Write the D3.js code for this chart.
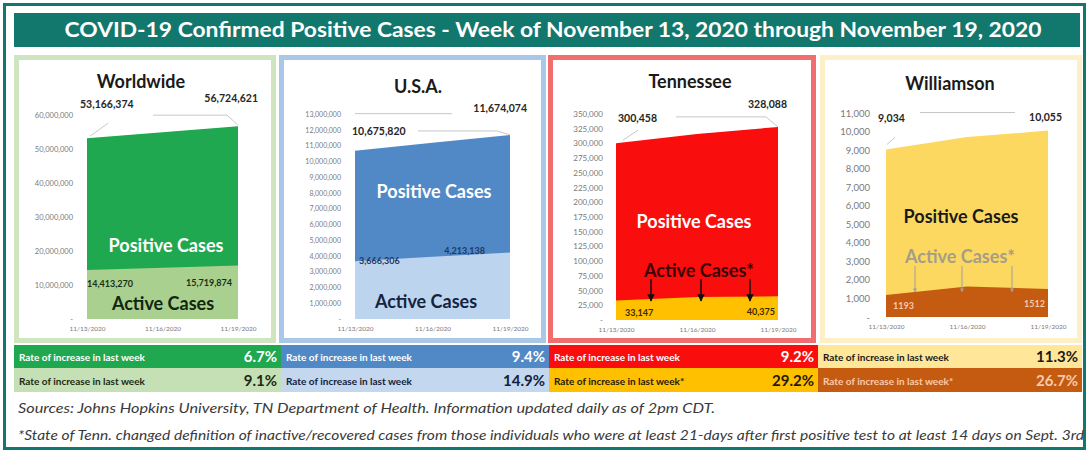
<!DOCTYPE html>
<html><head><meta charset="utf-8">
<script src="https://cdn.jsdelivr.net/npm/d3@7"></script>
<style>body{margin:0;background:#fff}svg{display:block}text{font-family:Lato,"Open Sans",sans-serif}</style>
</head><body><svg id="c" width="1088" height="452"></svg>
<script>
// ---------- DATA ----------
const dates = ["11/13/2020", "11/16/2020", "11/19/2020"];
const worldwidePositive = [53166374, 54950000, 56724621];
const worldwideActive = [14413270, 15060000, 15719874];
const usaPositive = [10675820, 11170000, 11674074];
const usaActive = [3666306, 3940000, 4213138];
const tennesseePositive = [300458, 316000, 328088];
const tennesseeActive = [33147, 39000, 40375];
const williamsonPositive = [9034, 9700, 10055];
const williamsonActive = [1193, 1650, 1512];
const worldwideTicks = [0, 10000000, 20000000, 30000000, 40000000, 50000000, 60000000];
const usaTicks = [0, 1000000, 2000000, 3000000, 4000000, 5000000, 6000000, 7000000, 8000000, 9000000, 10000000, 11000000, 12000000, 13000000];
const tennesseeTicks = [0, 25000, 50000, 75000, 100000, 125000, 150000, 175000, 200000, 225000, 250000, 275000, 300000, 325000, 350000];
const williamsonTicks = [0, 1000, 2000, 3000, 4000, 5000, 6000, 7000, 8000, 9000, 10000, 11000];
const panelTitles = ["Worldwide", "U.S.A.", "Tennessee", "Williamson"];
const positiveRates = ["6.7%", "9.4%", "9.2%", "11.3%"];
const activeRates = ["9.1%", "14.9%", "29.2%", "26.7%"];
const positiveRateLabels = ["Rate of increase in last week", "Rate of increase in last week", "Rate of increase in last week", "Rate of increase in last week"];
const activeRateLabels = ["Rate of increase in last week", "Rate of increase in last week", "Rate of increase in last week*", "Rate of increase in last week*"];
const activeTitles = ["Active Cases", "Active Cases", "Active Cases*", "Active Cases*"];
const titleText = "COVID-19 Confirmed Positive Cases - Week of November 13, 2020 through November 19, 2020";
const sourcesText = "Sources: Johns Hopkins University, TN Department of Health. Information updated daily as of 2pm CDT.";
const footnoteText = "*State of Tenn. changed definition of inactive/recovered cases from those individuals who were at least 21-days after first positive test to at least 14 days on Sept. 3rd";

const series = [
  {pos: worldwidePositive, act: worldwideActive, ticks: worldwideTicks},
  {pos: usaPositive, act: usaActive, ticks: usaTicks},
  {pos: tennesseePositive, act: tennesseeActive, ticks: tennesseeTicks},
  {pos: williamsonPositive, act: williamsonActive, ticks: williamsonTicks}
];

// ---------- LAYOUT / STYLE ----------
const teal = "#12776d";
const layout = [
  {x0:14, x1:276, plot:[87,238], y0:319, yTop:115, tickRight:73, tickSize:7.5, border:"#cfe5c0",
   posC:"#1fa84f", actC:"#a9d08e", titleX:141, titleY:88,
   posLab:{x:166,y:252,fill:"#ffffff"}, actLab:{x:163,y:310,fill:"#10260f"},
   topL:{dx:-7,dy:-30}, topR:{dx:20,dy:-24}, actL:{dx:0,y:287}, actR:{dx:-6,y:286}, actLabFill:"#1b2e14", actLabSize:9,
   leadL:[[21,-15],[3,-2]], leadR:[[-85,-11],[-11,-11],[0,-1]],
   row:[14,281], r1:"#1fa84f", r1t:"#ffffff", r2:"#c5e0b4", r2t:"#1b2a14"},
  {x0:279, x1:546, plot:[355,510], y0:319, yTop:114, tickRight:341, tickSize:7, border:"#a9c7e7",
   posC:"#5089c6", actC:"#bdd4ee", titleX:418, titleY:93,
   posLab:{x:434,y:198,fill:"#ffffff"}, actLab:{x:426,y:308,fill:"#142440"},
   topL:{dx:-3,dy:-16}, topR:{dx:17,dy:-23}, actL:{dx:4,y:264}, actR:{dx:-25,y:254}, actLabFill:"#1f3864", actLabSize:9,
   leadL:[[0,-37],[97,-37]], leadR:[[-92,-4],[-13,-4],[0,0]],
   row:[281,549], r1:"#5089c6", r1t:"#ffffff", r2:"#c3d8ef", r2t:"#14213a"},
  {x0:548, x1:816, plot:[616,778], y0:320, yTop:114, tickRight:603, tickSize:8, border:"#f26d6d",
   posC:"#f90d0d", actC:"#ffc000", titleX:690, titleY:88,
   posLab:{x:694,y:228,fill:"#ffffff"}, actLab:{x:699,y:277,fill:"#3a0606"},
   topL:{dx:2,dy:-21}, topR:{dx:9,dy:-19}, actL:{dx:9,y:316}, actR:{dx:-3,y:315}, actLabFill:"#3a2a00", actLabSize:9,
   leadL:[[22,-13],[7,-3]], leadR:[[-102,-10],[-12,-10],[0,0]],
   arrows:{dx:[35,4,-28], y1:279, y2:301, color:"#111111"},
   row:[549,818], r1:"#f90d0d", r1t:"#ffffff", r2:"#ffc000", r2t:"#1e1a08"},
  {x0:820, x1:1082, plot:[886,1048], y0:317, yTop:113, tickRight:870, tickSize:9.5, border:"#fdf0c8",
   posC:"#fcd861", actC:"#c55a11", titleX:950, titleY:90,
   posLab:{x:961,y:223,fill:"#1a1a1a"}, actLab:{x:960,y:263,fill:"#a49e88"},
   topL:{dx:-8,dy:-27}, topR:{dx:14,dy:-10}, actL:{dx:7,y:309}, actR:{dx:-3,y:307}, actLabFill:"#f6c9a8", actLabSize:9,
   leadL:[[9,-12],[1,-5]], leadR:[[-128,-18],[-33,-18]],
   arrows:{dx:[29,-5,-36], y1:266, y2:292, color:"#9e9e9e"},
   row:[818,1082], r1:"#ffe699", r1t:"#1a1a1a", r2:"#c55a11", r2t:"#f8cbad"}
];

const svg = d3.select("#c");
svg.append("rect").attr("width",1088).attr("height",452).attr("fill","#ffffff");
const defs = svg.append("defs");
["#111111","#9e9e9e"].forEach((c,i)=>{
  defs.append("marker").attr("id","arr"+i).attr("viewBox","0 0 10 10").attr("refX",9).attr("refY",5)
    .attr("markerWidth", i===0?5:4).attr("markerHeight", i===0?5:4).attr("orient","auto")
    .append("path").attr("d","M0,0L10,5L0,10z").attr("fill",c);
});

// frame & header
svg.append("rect").attr("x",4.5).attr("y",4.5).attr("width",1080).attr("height",444)
  .attr("fill","none").attr("stroke",teal).attr("stroke-width",3);
svg.append("rect").attr("x",14).attr("y",13).attr("width",1066).attr("height",34).attr("fill",teal);
svg.append("text").attr("x",553).attr("y",37).attr("text-anchor","middle").attr("fill","#fff")
  .attr("font-size",20).attr("font-weight",700).attr("textLength",977).attr("lengthAdjust","spacingAndGlyphs")
  .text(titleText);

const fmt = d3.format(",");

layout.forEach((L, i) => {
  const s = series[i];
  const g = svg.append("g");
  g.append("rect").attr("x",L.x0+2.5).attr("y",57.5).attr("width",L.x1-L.x0-5).attr("height",283)
    .attr("fill","#fff").attr("stroke",L.border).attr("stroke-width",5);
  g.append("text").attr("x",L.titleX).attr("y",L.titleY).attr("text-anchor","middle")
    .attr("font-size",18).attr("font-weight",700).attr("fill","#1a1a1a").text(panelTitles[i]);

  const x = d3.scalePoint().domain(dates).range(L.plot);
  const y = d3.scaleLinear().domain([0, d3.max(s.ticks)]).range([L.y0, L.yTop]);

  const ya = d3.axisLeft(y).tickValues(s.ticks).tickSize(0).tickPadding(0)
    .tickFormat(d => d === 0 ? "-" : fmt(d));
  g.append("g").attr("transform",`translate(${L.tickRight},0)`).call(ya)
    .call(a => a.select(".domain").remove())
    .selectAll("text").attr("fill","#7a7a7a").attr("font-size",L.tickSize).attr("font-family","Lato,sans-serif");

  const xa = d3.axisBottom(x).tickSize(0).tickPadding(0);
  g.append("g").attr("transform",`translate(0,${L.y0+7})`).call(xa)
    .call(a => a.select(".domain").remove())
    .selectAll("text").attr("fill","#7a7a7a").attr("font-size",6.5).attr("font-family","Lato,sans-serif");

  const area = (vals) => d3.area().x((d,k)=>x(dates[k])).y0(L.y0).y1(d=>y(d))(vals);
  g.append("path").attr("d",area(s.pos)).attr("fill",L.posC);
  g.append("path").attr("d",area(s.act)).attr("fill",L.actC);

  const pL = [x(dates[0]), y(s.pos[0])];
  const pR = [x(dates[2]), y(s.pos[2])];
  const line = d3.line();
  g.append("path").attr("d", line(L.leadL.map(o=>[pL[0]+o[0], pL[1]+o[1]]))).attr("fill","none").attr("stroke","#c8c8c8").attr("stroke-width",1);
  g.append("path").attr("d", line(L.leadR.map(o=>[pR[0]+o[0], pR[1]+o[1]]))).attr("fill","none").attr("stroke","#c8c8c8").attr("stroke-width",1);

  g.append("text").attr("x",pL[0]+L.topL.dx).attr("y",pL[1]+L.topL.dy).attr("font-size",10.5).attr("font-weight",700)
    .attr("fill","#262626").text(fmt(s.pos[0]));
  g.append("text").attr("x",pR[0]+L.topR.dx).attr("y",pR[1]+L.topR.dy).attr("text-anchor","end").attr("font-size",10.5).attr("font-weight",700)
    .attr("fill","#262626").text(fmt(s.pos[2]));

  const actFmt = i === 3 ? (d => String(d)) : fmt;
  g.append("text").attr("x",x(dates[0])+L.actL.dx).attr("y",L.actL.y).attr("font-size",L.actLabSize).attr("font-weight",700)
    .attr("fill",L.actLabFill).text(actFmt(s.act[0]));
  g.append("text").attr("x",x(dates[2])+L.actR.dx).attr("y",L.actR.y).attr("text-anchor","end").attr("font-size",L.actLabSize).attr("font-weight",700)
    .attr("fill",L.actLabFill).text(actFmt(s.act[2]));

  g.append("text").attr("x",L.posLab.x).attr("y",L.posLab.y).attr("text-anchor","middle").attr("font-size",18)
    .attr("font-weight",700).attr("fill",L.posLab.fill).text("Positive Cases");
  g.append("text").attr("x",L.actLab.x).attr("y",L.actLab.y).attr("text-anchor","middle").attr("font-size",18)
    .attr("font-weight",700).attr("fill",L.actLab.fill).text(activeTitles[i]);

  if (L.arrows) {
    dates.forEach((d,k) => {
      const ax = x(d) + L.arrows.dx[k];
      g.append("line").attr("x1",ax).attr("x2",ax).attr("y1",L.arrows.y1).attr("y2",L.arrows.y2)
        .attr("stroke",L.arrows.color).attr("stroke-width", i===2?1.5:1).attr("marker-end",`url(#arr${i===2?0:1})`);
    });
  }

  const [rx0, rx1] = L.row;
  svg.append("rect").attr("x",rx0).attr("y",345).attr("width",rx1-rx0).attr("height",23).attr("fill",L.r1);
  svg.append("rect").attr("x",rx0).attr("y",368).attr("width",rx1-rx0).attr("height",24).attr("fill",L.r2);
  svg.append("text").attr("x",rx0+5).attr("y",361).attr("font-size",10).attr("font-weight",700).attr("fill",L.r1t).text(positiveRateLabels[i]);
  svg.append("text").attr("x",rx1-4).attr("y",362).attr("text-anchor","end").attr("font-size",15).attr("font-weight",700).attr("fill",L.r1t).text(positiveRates[i]);
  svg.append("text").attr("x",rx0+5).attr("y",385).attr("font-size",10).attr("font-weight",700).attr("fill",L.r2t).text(activeRateLabels[i]);
  svg.append("text").attr("x",rx1-4).attr("y",386).attr("text-anchor","end").attr("font-size",15).attr("font-weight",700).attr("fill",L.r2t).text(activeRates[i]);
});

svg.append("text").attr("x",18).attr("y",413).attr("font-size",12.5).attr("font-style","italic").attr("fill","#3a3a3a")
  .attr("textLength",697).attr("lengthAdjust","spacingAndGlyphs").text(sourcesText);
svg.append("text").attr("x",18).attr("y",440).attr("font-size",12.5).attr("font-style","italic").attr("fill","#3a3a3a")
  .attr("textLength",1066).attr("lengthAdjust","spacingAndGlyphs").text(footnoteText);
</script></body></html>
